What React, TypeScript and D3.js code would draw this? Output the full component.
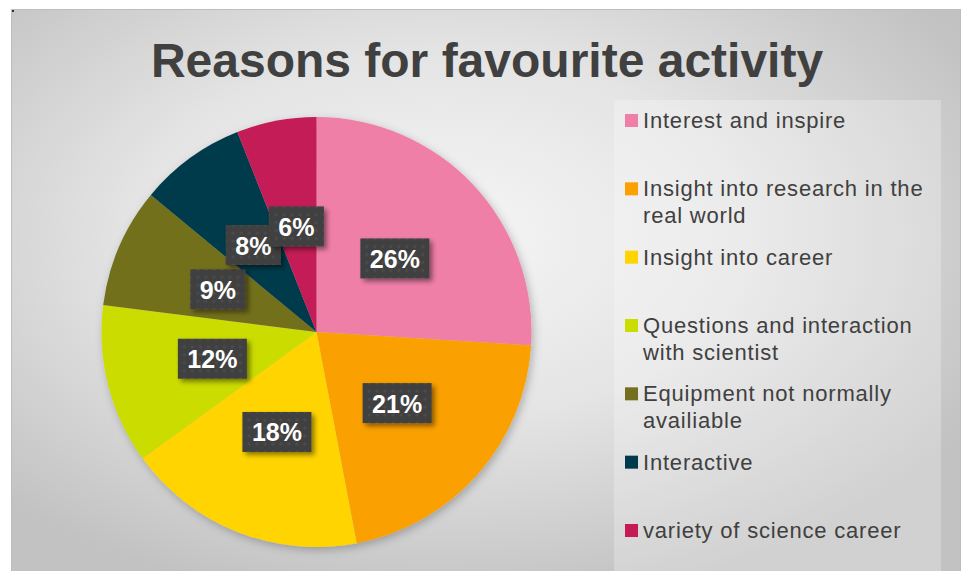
import React from "react";
import * as d3 from "d3";

const title = "Reasons for favourite activity";
const categories = [
  "Interest and inspire",
  "Insight into research in the real world",
  "Insight into career",
  "Questions and interaction with scientist",
  "Equipment not normally availiable",
  "Interactive",
  "variety of science career",
];
const legendLines = [
  ["Interest and inspire"],
  ["Insight into research in the", "real world"],
  ["Insight into career"],
  ["Questions and interaction", "with scientist"],
  ["Equipment not normally", "availiable"],
  ["Interactive"],
  ["variety of science career"],
];
const values = [26, 21, 18, 12, 9, 8, 6];
const colors = ["#F07FA8", "#FAA000", "#FFD400", "#CADC00", "#736F1F", "#003B4C", "#C41A56"];

const W = 966;
const H = 571;
const cx = 316.5;
const cy = 332;
const R = 215;

function textWidth(s: string, size: number) {
  const w: Record<string, number> = { "%": 0.889 };
  let t = 0;
  for (const c of s) t += w[c] ?? 0.556;
  return t * size;
}

export default function App() {
  const total = d3.sum(values);
  const pie = d3.pie<number>().sort(null).value((d) => d)(values);
  const arc = d3.arc<d3.PieArcDatum<number>>().innerRadius(0).outerRadius(R);
  const fmt = (v: number) => `${Math.round((v / total) * 100)}%`;
  const legendY = d3.scaleLinear().domain([0, categories.length - 1]).range([128, 538]);
  const font = "Arial, 'Liberation Sans', sans-serif";

  return (
    <svg width={W} height={H} style={{ position: "absolute", left: 0, top: 0, background: "#fff" }} fontFamily={font}>
      <defs>
        <radialGradient id="bg" cx="45%" cy="40%" r="65%">
          <stop offset="0%" stopColor="#f6f6f6" />
          <stop offset="50%" stopColor="#e4e4e4" />
          <stop offset="100%" stopColor="#c2c2c2" />
        </radialGradient>
        <pattern id="dots" width="8" height="8" patternUnits="userSpaceOnUse">
          <rect width="8" height="8" fill="#404040" />
          <circle cx="4" cy="4" r="1.6" fill="#4c4c4c" />
        </pattern>
        <filter id="lblShadow" x="-20%" y="-20%" width="150%" height="160%">
          <feDropShadow dx="3" dy="3" stdDeviation="2.5" floodColor="#000" floodOpacity="0.45" />
        </filter>
        <filter id="pieShadow" x="-10%" y="-10%" width="125%" height="125%">
          <feDropShadow dx="2" dy="3" stdDeviation="4" floodColor="#000" floodOpacity="0.25" />
        </filter>
      </defs>
      <rect x={11.5} y={9.5} width={949} height={570} fill="url(#bg)" stroke="#bdbdbd" strokeWidth={1} />
      <rect x={12} y={10} width={2} height={2} fill="#333" />
      <text x={487} y={77} textAnchor="middle" fontSize={48} fontWeight="bold" fill="#404040">
        {title}
      </text>
      <rect x={614} y={100} width={327} height={480} fill="#ffffff" opacity={0.25} />
      <g transform={`translate(${cx},${cy})`}>
        <g filter="url(#pieShadow)">
          {pie.map((p, i) => (
            <path key={i} d={arc(p) || ""} fill={colors[i]} />
          ))}
        </g>
        {pie.map((p, i) => {
          const [lx, ly] = arc.centroid(p);
          const label = fmt(p.data);
          const tw = textWidth(label, 25);
          const bw = tw + 19;
          const bh = 40;
          return (
            <g key={i} transform={`translate(${lx},${ly})`}>
              <rect x={-bw / 2} y={-bh / 2} width={bw} height={bh} fill="url(#dots)" filter="url(#lblShadow)" />
              <text x={0} y={9.5} textAnchor="middle" fontSize={25} fontWeight="bold" fill="#ffffff">
                {label}
              </text>
            </g>
          );
        })}
      </g>
      <g>
        {categories.map((c, i) => {
          const y = legendY(i);
          return (
            <g key={c}>
              <rect x={625} y={y - 14} width={13} height={13} fill={colors[i]} />
              {legendLines[i].map((ln, j) => (
                <text key={j} x={643} y={y + j * 26.5} fontSize={22} letterSpacing={0.8} fill="#404040">
                  {ln}
                </text>
              ))}
            </g>
          );
        })}
      </g>
    </svg>
  );
}
